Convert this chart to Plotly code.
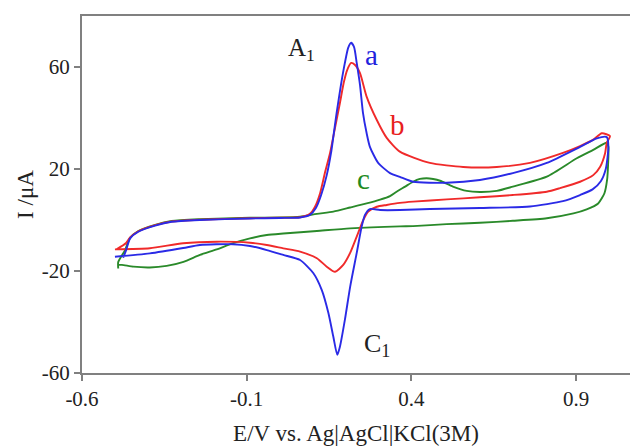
import plotly.graph_objects as go

# ---- data (E in V, I in uA) ----
E_a = [-0.475, -0.466, -0.454, -0.429, -0.378, -0.328, -0.242, -0.09, 0.001, 0.062, 0.092, 0.110, 0.126,
       0.143, 0.156, 0.173, 0.186, 0.198, 0.208, 0.217, 0.226, 0.234, 0.244, 0.253, 0.264, 0.274, 0.299,
       0.335, 0.365, 0.405, 0.507, 0.608, 0.708, 0.811, 0.912, 0.963, 0.993,
       0.998, 0.990, 0.975, 0.950, 0.912, 0.860, 0.760, 0.608, 0.456, 0.365, 0.305, 0.274, 0.259, 0.249,
       0.234, 0.214, 0.198, 0.183, 0.175, 0.163, 0.148, 0.128, 0.102, 0.062, 0.011, -0.039, -0.09, -0.142,
       -0.242, -0.293, -0.394, -0.50]
I_a = [-14.8, -11.8, -7.2, -4.6, -2.2, -0.7, 0.0, 0.6, 0.8, 1.0, 2.0, 4.7, 9.8,
       17.6, 26.3, 42.0, 52.9, 61.6, 67.5, 69.5, 67.8, 61.6, 52.9, 42.0, 34.1, 28.7, 22.4,
       18.4, 16.9, 15.0, 14.6, 15.7, 18.4, 22.4, 28.7, 32.0, 32.5,
       28.7, 20.0, 15.2, 12.0, 9.8, 7.4, 5.3, 4.7, 4.3, 3.9, 3.9, 4.3, 2.0, -2.6,
       -12.9, -26.2, -39.2, -49.7, -52.9, -45.8, -36.5, -27.5, -20.8, -15.7, -13.7, -11.8, -10.2, -9.5,
       -9.8, -11.0, -13.1, -14.4]

E_b = [-0.494, -0.466, -0.454, -0.429, -0.378, -0.328, -0.242, -0.09, 0.001, 0.062, 0.092, 0.107, 0.123,
       0.138, 0.153, 0.168, 0.183, 0.195, 0.205, 0.217, 0.229, 0.244, 0.264, 0.295, 0.325, 0.365, 0.456,
       0.557, 0.659, 0.760, 0.860, 0.912, 0.951, 0.978, 1.003,
       0.993, 0.988, 0.973, 0.952, 0.912, 0.851, 0.811, 0.708, 0.608, 0.507, 0.405, 0.365, 0.325, 0.295,
       0.269, 0.254, 0.234, 0.214, 0.193, 0.168, 0.143, 0.113, 0.062, 0.011, -0.039, -0.09, -0.191,
       -0.293, -0.394, -0.50]
I_b = [-11.4, -9.0, -6.8, -4.4, -2.0, -0.6, 0.1, 0.7, 0.9, 1.1, 2.4, 5.1, 10.6,
       18.8, 26.3, 36.1, 45.9, 54.1, 58.8, 61.6, 60.8, 57.6, 48.4, 39.2, 32.2, 26.8, 22.4,
       20.8, 20.8, 22.4, 26.3, 29.0, 31.4, 34.0, 32.9,
       30.3, 26.2, 20.9, 17.6, 15.0, 12.5, 11.1, 9.8, 8.9, 8.1, 7.2, 6.7, 5.9, 5.2,
       3.3, 0.0, -6.5, -12.9, -17.6, -20.3, -18.3, -15.0, -12.4, -11.1, -9.8, -8.9, -8.5,
       -9.1, -11.1, -11.5]

E_c = [-0.490, -0.490, -0.470, -0.454, -0.429, -0.378, -0.328, -0.242, -0.09, 0.001, 0.062, 0.113, 0.163,
       0.214, 0.264, 0.305, 0.335, 0.355, 0.381, 0.405, 0.426, 0.446, 0.466, 0.487, 0.526, 0.568, 0.608,
       0.659, 0.708, 0.811, 0.902, 0.952, 0.993,
       0.998, 0.997, 0.994, 0.986, 0.967, 0.932, 0.892, 0.811, 0.708, 0.608, 0.507, 0.405, 0.365, 0.214,
       0.113, 0.011, -0.039, -0.09, -0.141, -0.191, -0.242, -0.292, -0.343, -0.394, -0.444, -0.479, -0.490]
I_c = [-19.0, -16.5, -12.0, -7.0, -4.3, -1.9, -0.4, 0.3, 0.9, 1.0, 1.3, 2.4, 3.3,
       4.9, 6.5, 8.0, 9.4, 11.1, 13.1, 15.0, 16.1, 16.4, 16.1, 15.4, 13.1, 11.4, 11.0,
       11.4, 13.1, 17.0, 24.2, 27.5, 30.3,
       28.7, 21.6, 15.7, 10.5, 6.5, 4.2, 2.6, 0.7, -0.3, -1.1, -1.6, -2.4, -2.5, -3.3,
       -4.3, -5.3, -5.9, -7.2, -9.1, -11.5, -13.7, -16.4, -18.0, -18.6, -18.3, -17.6, -17.6]

x_ticks = [-0.6, -0.1, 0.4, 0.9]
x_tick_text = ["-0.6", "-0.1", "0.4", "0.9"]
y_ticks = [-60, -20, 20, 60]
y_tick_text = ["-60", "-20", "20", "60"]

labels = ["A<sub>1</sub>", "a", "b", "c", "C<sub>1</sub>"]
label_E = [0.065, 0.280, 0.359, 0.256, 0.296]
label_I = [66.7, 64.7, 37.3, 16.1, -49.0]
label_colors = ["#222222", "#2222dd", "#e82020", "#218a21", "#222222"]
label_sizes = [25, 29, 29, 29, 26]

FONT = "Liberation Serif, Times New Roman, serif"

fig = go.Figure()
for E, I, col in [(E_c, I_c, "#2a8a2a"), (E_b, I_b, "#f02a2a"), (E_a, I_a, "#2a2ae6")]:
    fig.add_trace(go.Scatter(x=E, y=I, mode="lines",
                             line=dict(color=col, width=1.9, shape="spline", smoothing=0.6),
                             showlegend=False, hoverinfo="skip"))

for t, x, y, c, s in zip(labels, label_E, label_I, label_colors, label_sizes):
    fig.add_annotation(x=x, y=y, text=t, showarrow=False,
                       font=dict(family=FONT, size=s, color=c),
                       xanchor="center", yanchor="middle")

axis_common = dict(showgrid=False, zeroline=False, showline=True, linecolor="#808080", linewidth=2,
                   ticks="outside", ticklen=6, tickwidth=1.5, tickcolor="#808080",
                   tickfont=dict(family=FONT, size=21, color="#222222"))

fig.update_xaxes(range=[-0.6, 1.0636], tickvals=x_ticks, ticktext=x_tick_text, mirror=True,
                 title=dict(text="E/V vs. Ag|AgCl|KCl(3M)", font=dict(family=FONT, size=23, color="#222222"),
                            standoff=15),
                 **axis_common)
fig.update_yaxes(range=[-60, 80], tickvals=y_ticks, ticktext=y_tick_text,
                 title=dict(text="I /μA", font=dict(family=FONT, size=23, color="#222222"), standoff=2),
                 **axis_common)

fig.update_layout(width=630, height=446, margin=dict(l=82, r=0, t=16, b=73),
                  paper_bgcolor="white", plot_bgcolor="white")

fig.write_html("out.html")
